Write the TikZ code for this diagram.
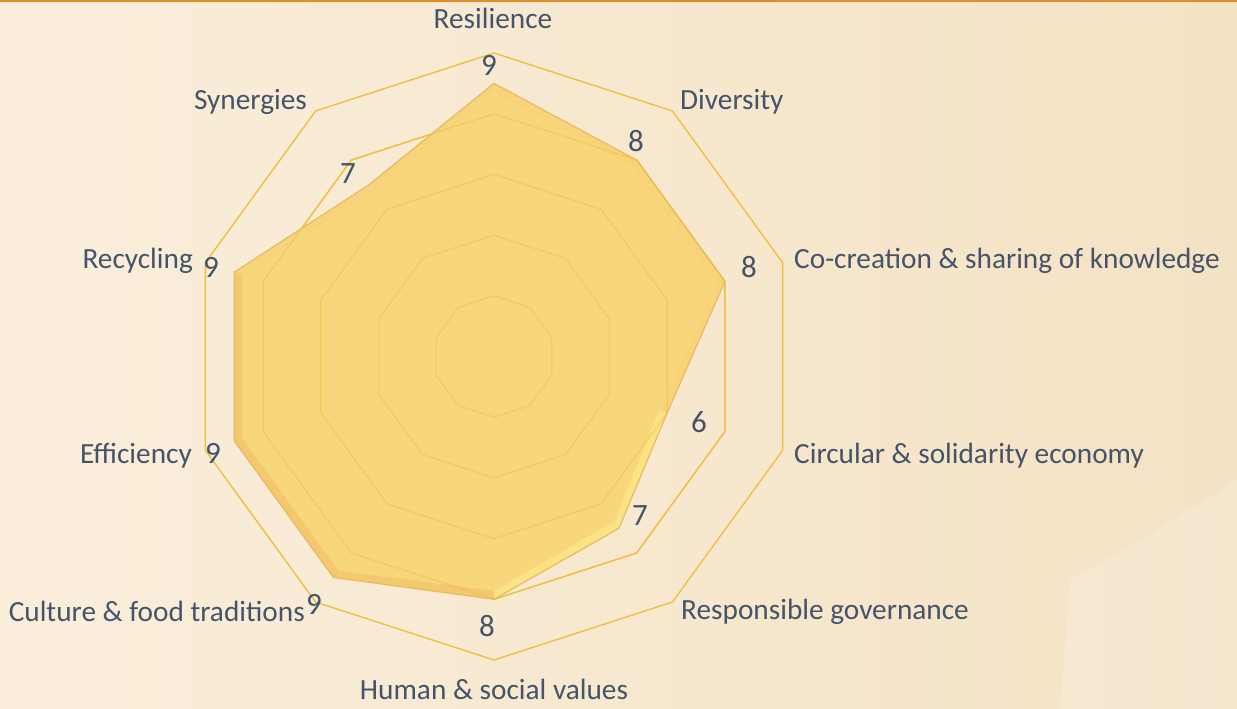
\documentclass[tikz,border=0pt]{standalone}
\usepackage{fontspec}
\setmainfont{Carlito}
\usetikzlibrary{calc}
\definecolor{txt}{HTML}{44546A}
\definecolor{gridc}{HTML}{EFC040}
\definecolor{bgL}{HTML}{FAEEDB}
\definecolor{bgR}{HTML}{F4E2C4}
\definecolor{topline}{HTML}{E68A2C}
\definecolor{polyfill}{HTML}{F8D478}
\definecolor{polyedge}{HTML}{E9B85E}
\definecolor{polyinner}{HTML}{FADA7E}
\definecolor{bevlight}{HTML}{FCE688}
\definecolor{bevdark}{HTML}{F2C068}
\tikzset{
  lbl/.style={text=txt,font=\fontsize{29.3}{32}\selectfont,inner sep=0pt},
  val/.style={text=txt,font=\fontsize{31}{34}\selectfont,inner sep=0pt,anchor=base},
  ring/.style={draw=gridc,line width=1.4pt,line join=miter},
}
\begin{document}
\begin{tikzpicture}[x=1pt,y=-1pt]
\useasboundingbox (0,0) rectangle (1237,709);
% background
\shade[left color=bgL,right color=bgR] (0,0) rectangle (1237,709);
\fill[white,opacity=0.18] (1060,709) -- (1070,580) -- (1140,540) -- (1237,480) -- (1237,709) -- cycle;
\fill[topline] (0,0) rectangle (1237,2.2);
\coordinate (c) at (494,356.5);
\begin{scope}[shift={(c)}]
  \def\u{30.35}
  % grid rings (under the series)
  \foreach \k in {2,4,6,8,10}{
    \draw[ring] (90:{\k*\u pt})
      \foreach \a in {54,18,-18,-54,-90,-126,-162,162,126}{ -- (\a:{\k*\u pt}) } -- cycle;
  }
  % data polygon
  \coordinate (d0) at (90:{9*\u pt});
  \coordinate (d1) at (54:{8*\u pt});
  \coordinate (d2) at (18:{8*\u pt});
  \coordinate (d3) at (-18:{6*\u pt});
  \coordinate (d4) at (-54:{7*\u pt});
  \coordinate (d5) at (-90:{8*\u pt});
  \coordinate (d6) at (-126:{9*\u pt});
  \coordinate (d7) at (-162:{9*\u pt});
  \coordinate (d8) at (162:{9*\u pt});
  \coordinate (d9) at (126:{7*\u pt});
  \coordinate (e0) at (90:{8.72*\u pt});
  \coordinate (e1) at (54:{7.72*\u pt});
  \coordinate (e2) at (18:{7.72*\u pt});
  \coordinate (e3) at (-18:{5.72*\u pt});
  \coordinate (e4) at (-54:{6.72*\u pt});
  \coordinate (e5) at (-90:{7.72*\u pt});
  \coordinate (e6) at (-126:{8.72*\u pt});
  \coordinate (e7) at (-162:{8.72*\u pt});
  \coordinate (e8) at (162:{8.72*\u pt});
  \coordinate (e9) at (126:{6.72*\u pt});
  % shadow
  \fill[black!45,opacity=0.2,shift={(1.5,2.5)}] (d0)--(d1)--(d2)--(d3)--(d4)--(d5)--(d6)--(d7)--(d8)--(d9)--cycle;
  \fill[polyfill,opacity=0.96] (d0)--(d1)--(d2)--(d3)--(d4)--(d5)--(d6)--(d7)--(d8)--(d9)--cycle;
  % bevel faces
  \fill[bevlight,opacity=0.8] (d3)--(d4)--(d5)--(e5)--(e4)--(e3)--cycle;
  \fill[bevdark,opacity=0.6] (d5)--(d6)--(d7)--(d8)--(e8)--(e7)--(e6)--(e5)--cycle;
  \fill[polyinner,opacity=0.5] (e0)--(e1)--(e2)--(e3)--(e4)--(e5)--(e6)--(e7)--(e8)--(e9)--cycle;
  \draw[polyedge,line width=1.1pt,line join=miter] (d0)--(d1)--(d2)--(d3)--(d4)--(d5)--(d6)--(d7)--(d8)--(d9)--cycle;
  % faint grid seen through the series
  \foreach \k in {2,4,6,8}{
    \draw[ring,opacity=0.45] (90:{\k*\u pt})
      \foreach \a in {54,18,-18,-54,-90,-126,-162,162,126}{ -- (\a:{\k*\u pt}) } -- cycle;
  }
\end{scope}
% category labels
\node[lbl,anchor=base] (lRes) at (493,29) {Resilience};
\node[lbl,anchor=base west] (lDiv) at (680,110) {Diversity};
\node[lbl,anchor=base west] (lCo) at (794,268) {Co-creation \& sharing of knowledge};
\node[lbl,anchor=base west] (lCirc) at (794,463) {Circular \& solidarity economy};
\node[lbl,anchor=base west] (lGov) at (681,619) {Responsible governance};
\node[lbl,anchor=base] (lHum) at (494,699) {Human \& social values};
\node[lbl,anchor=base east] (lCul) at (305,621) {Culture \& food traditions};
\node[lbl,anchor=base east] (lEff) at (192,463) {Efficiency};
\node[lbl,anchor=base east] (lRec) at (193,268) {Recycling};
\node[lbl,anchor=base east] (lSyn) at (307,110) {Synergies};
% value labels
\node[val] (vRes) at (489,76) {9};
\node[val] (vDiv) at (636,151) {8};
\node[val] (vCo) at (749,277) {8};
\node[val] (vCirc) at (699,432) {6};
\node[val] (vGov) at (640,525) {7};
\node[val] (vHum) at (487,636) {8};
\node[val] (vCul) at (314,614) {9};
\node[val] (vEff) at (213,463) {9};
\node[val] (vRec) at (211,277) {9};
\node[val] (vSyn) at (348,183) {7};
\end{tikzpicture}
\end{document}
